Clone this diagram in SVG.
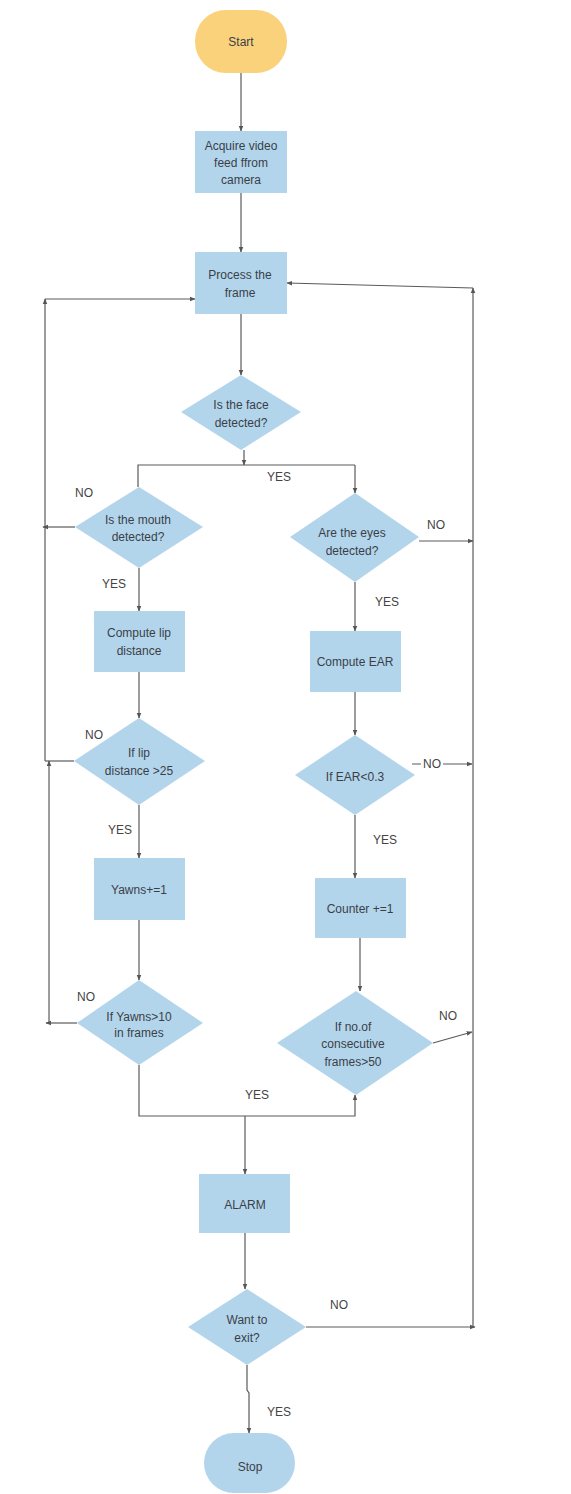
<svg xmlns="http://www.w3.org/2000/svg" width="571" height="1494" viewBox="0 0 571 1494">
<defs>
<marker id="ah" viewBox="0 0 10 10" refX="9" refY="5" markerWidth="6" markerHeight="6" orient="auto" markerUnits="userSpaceOnUse">
<path d="M0,1 L10,5 L0,9 z" fill="#555"/>
</marker>
<style>
.box{fill:#b3d5ec;stroke:none}
.start{fill:#fbd27c;stroke:none}
.t{font-family:"Liberation Sans",Arial,sans-serif;font-size:12px;fill:#3a3f47;text-anchor:middle}
.lbl{font-family:"Liberation Sans",Arial,sans-serif;font-size:12px;fill:#444;text-anchor:middle}
.c{fill:none;stroke:#5a5a5a;stroke-width:1.2}
.a{marker-end:url(#ah)}
</style>
</defs>
<rect width="571" height="1494" fill="#fff"/>

<g id="connectors">
<path class="c a" d="M241,73 V131"/>
<path class="c a" d="M241,193 V252"/>
<path class="c a" d="M241,314 V375"/>
<path class="c a" d="M244,450 V465"/>
<path class="c" d="M138,487 V465 H355"/>
<path class="c a" d="M355,465 V493"/>
<path class="c a" d="M75,527 H43"/>
<path class="c a" d="M45,761 V299"/>
<path class="c a" d="M45,299 H195"/>
<path class="c a" d="M139,568 V611"/>
<path class="c a" d="M139,672 V718"/>
<path class="c" d="M74,761 H45"/>
<path class="c a" d="M49,1023 V761"/>
<path class="c a" d="M139,805 V858"/>
<path class="c a" d="M139,920 V980"/>
<path class="c a" d="M77,1023 H46"/>
<path class="c a" d="M139,1065 V1116 H355 V1095"/>
<path class="c a" d="M245,1116 V1174"/>
<path class="c a" d="M419,541 H473"/>
<path class="c a" d="M355,582 V631"/>
<path class="c a" d="M355,692 V735"/>
<path class="c a" d="M412,764 H472"/>
<path class="c a" d="M355,815 V878"/>
<path class="c a" d="M360,938 V991"/>
<path class="c a" d="M433,1043 L472,1032"/>
<path class="c a" d="M473,1327 V288"/>
<path class="c a" d="M473,288 L287,283"/>
<path class="c a" d="M245,1233 V1289"/>
<path class="c a" d="M306,1327 H475"/>
<path class="c a" d="M247,1365 V1390 L249,1393 V1433"/>
<text class="lbl" x="279" y="481">YES</text>
<text class="lbl" x="84" y="497">NO</text>
<text class="lbl" x="436" y="529">NO</text>
<text class="lbl" x="114" y="588">YES</text>
<text class="lbl" x="387" y="606">YES</text>
<text class="lbl" x="94" y="739">NO</text>
<rect x="421" y="756" width="22" height="14" fill="#fff"/>
<text class="lbl" x="432" y="768">NO</text>
<text class="lbl" x="120" y="834">YES</text>
<text class="lbl" x="385" y="844">YES</text>
<text class="lbl" x="86" y="1001">NO</text>
<text class="lbl" x="448" y="1020">NO</text>
<text class="lbl" x="257" y="1099">YES</text>
<text class="lbl" x="339" y="1309">NO</text>
<text class="lbl" x="279" y="1416">YES</text>
</g>

<g id="start">
<rect class="start" x="195" y="10" width="92" height="63" rx="31" ry="31"/>
<text class="t" x="241" y="46">Start</text>
</g>
<g id="acquire">
<rect class="box" x="195" y="131" width="92" height="62"/>
<text class="t" x="241" y="150">Acquire video</text>
<text class="t" x="241" y="167">feed ffrom</text>
<text class="t" x="241" y="184">camera</text>
</g>
<g id="process">
<rect class="box" x="195" y="252" width="92" height="62"/>
<text class="t" x="240" y="279">Process the</text>
<text class="t" x="240" y="297">frame</text>
</g>
<g id="face">
<polygon class="box" points="241,375 301,412 241,450 181,412"/>
<text class="t" x="241" y="409">Is the face</text>
<text class="t" x="241" y="427">detected?</text>
</g>
<g id="mouth">
<polygon class="box" points="139,487 203,527 139,568 75,527"/>
<text class="t" x="138" y="524">Is the mouth</text>
<text class="t" x="138" y="541">detected?</text>
</g>
<g id="eyes">
<polygon class="box" points="355,493 419,537 355,582 290,537"/>
<text class="t" x="352" y="537">Are the eyes</text>
<text class="t" x="352" y="555">detected?</text>
</g>
<g id="lipdist">
<rect class="box" x="94" y="611" width="91" height="61"/>
<text class="t" x="139" y="637">Compute lip</text>
<text class="t" x="139" y="655">distance</text>
</g>
<g id="ear">
<rect class="box" x="310" y="631" width="91" height="61"/>
<text class="t" x="355" y="666">Compute EAR</text>
</g>
<g id="lipcheck">
<polygon class="box" points="139,718 205,761 139,805 74,761"/>
<text class="t" x="139" y="757">If lip</text>
<text class="t" x="139" y="775">distance &gt;25</text>
</g>
<g id="earcheck">
<polygon class="box" points="355,735 415,775 355,815 295,775"/>
<text class="t" x="355" y="781">If EAR&lt;0.3</text>
</g>
<g id="yawns">
<rect class="box" x="94" y="858" width="91" height="62"/>
<text class="t" x="139" y="894">Yawns+=1</text>
</g>
<g id="counter">
<rect class="box" x="315" y="878" width="91" height="60"/>
<text class="t" x="360" y="913">Counter +=1</text>
</g>
<g id="yawncheck">
<polygon class="box" points="139,980 203,1023 139,1065 77,1023"/>
<text class="t" x="139" y="1021">If Yawns&gt;10</text>
<text class="t" x="139" y="1037">in frames</text>
</g>
<g id="consec">
<polygon class="box" points="356,991 433,1043 356,1095 277,1043"/>
<text class="t" x="353" y="1031">If no.of</text>
<text class="t" x="353" y="1048">consecutive</text>
<text class="t" x="353" y="1066">frames&gt;50</text>
</g>
<g id="alarm">
<rect class="box" x="199" y="1174" width="91" height="59"/>
<text class="t" x="245" y="1209">ALARM</text>
</g>
<g id="exit">
<polygon class="box" points="247,1289 306,1327 247,1365 188,1327"/>
<text class="t" x="247" y="1324">Want to</text>
<text class="t" x="247" y="1342">exit?</text>
</g>
<g id="stop">
<rect class="box" x="204" y="1433" width="91" height="60" rx="30" ry="30"/>
<text class="t" x="250" y="1471">Stop</text>
</g>
</svg>
